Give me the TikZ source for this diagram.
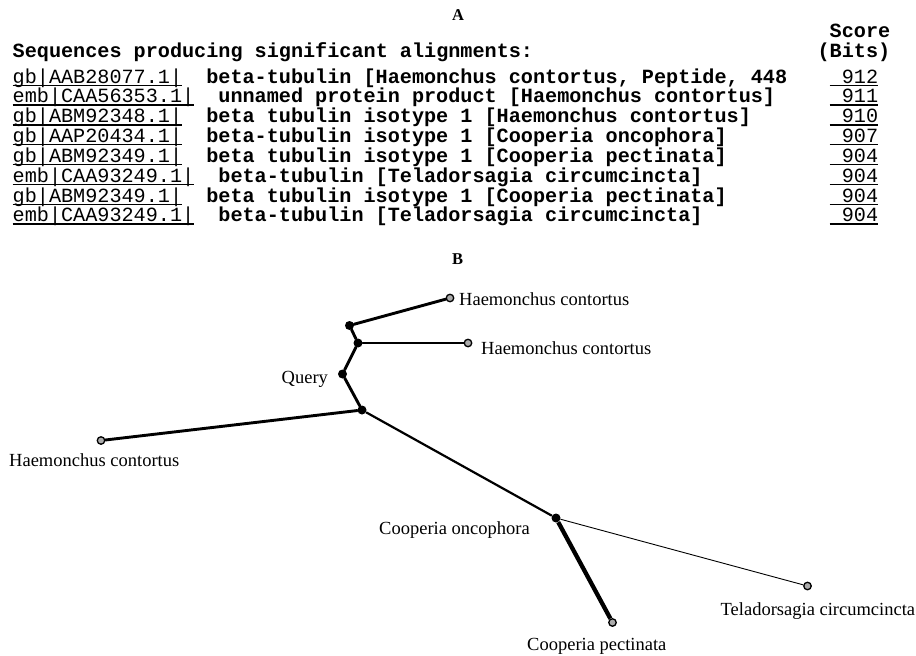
\documentclass[tikz,border=0pt]{standalone}
\usepackage{fontspec}
\setmainfont{Liberation Serif}
\setmonofont{Liberation Mono}
\begin{document}
\begin{tikzpicture}[x=1pt,y=-1pt,
  seqb/.style={font=\fontsize{20.17}{22}\selectfont\ttfamily\bfseries, anchor=base west, inner sep=0pt},
  seqr/.style={font=\fontsize{20.17}{22}\selectfont\ttfamily, anchor=base west, inner sep=0pt},
  uline/.style={line width=1.4pt},
  lbl/.style={font=\fontsize{18.5}{20}\selectfont, anchor=base west, inner sep=0pt},
  panel/.style={font=\fontsize{16.5}{18}\selectfont\bfseries, anchor=base, inner sep=0pt},
  innode/.style={circle, fill=black, minimum size=9pt, inner sep=0pt},
  leaf/.style={circle, fill=gray!65, draw=black, line width=1.3pt, minimum size=7.5pt, inner sep=0pt},
  br/.style={line width=2.9pt, line cap=round}]
\useasboundingbox (0,0) rectangle (916,656);

% ---------- Panel A ----------
\node[panel] (A) at (458,20) {A};
\node[seqb] (sc) at (829.5,37) {Score};
\node[seqb] (bt) at (817.4,57) {(Bits)};
\node[seqb] (hd) at (12.5,57) {Sequences producing significant alignments:};

\node[seqr] (a1) at (12.5,83)    {gb|AAB28077.1|};
\node[seqb] (d1) at (206.1,83)   {beta-tubulin [Haemonchus contortus, Peptide, 448};
\node[seqr] (s1) at (841.6,83)   {912};

\node[seqr] (a2) at (12.5,102.85)  {emb|CAA56353.1|};
\node[seqb] (d2) at (218.2,102.85) {unnamed protein product [Haemonchus contortus]};
\node[seqr] (s2) at (841.6,102.85) {911};

\node[seqr] (a3) at (12.5,122.7)  {gb|ABM92348.1|};
\node[seqb] (d3) at (206.1,122.7) {beta tubulin isotype 1 [Haemonchus contortus]};
\node[seqr] (s3) at (841.6,122.7) {910};

\node[seqr] (a4) at (12.5,142.55)  {gb|AAP20434.1|};
\node[seqb] (d4) at (206.1,142.55) {beta-tubulin isotype 1 [Cooperia oncophora]};
\node[seqr] (s4) at (841.6,142.55) {907};

\node[seqr] (a5) at (12.5,162.4)  {gb|ABM92349.1|};
\node[seqb] (d5) at (206.1,162.4) {beta tubulin isotype 1 [Cooperia pectinata]};
\node[seqr] (s5) at (841.6,162.4) {904};

\node[seqr] (a6) at (12.5,182.25)  {emb|CAA93249.1|};
\node[seqb] (d6) at (218.2,182.25) {beta-tubulin [Teladorsagia circumcincta]};
\node[seqr] (s6) at (841.6,182.25) {904};

\node[seqr] (a7) at (12.5,202.1)  {gb|ABM92349.1|};
\node[seqb] (d7) at (206.1,202.1) {beta tubulin isotype 1 [Cooperia pectinata]};
\node[seqr] (s7) at (841.6,202.1) {904};

\node[seqr] (a8) at (12.5,221.95)  {emb|CAA93249.1|};
\node[seqb] (d8) at (218.2,221.95) {beta-tubulin [Teladorsagia circumcincta]};
\node[seqr] (s8) at (841.6,221.95) {904};

\foreach \n in {1,...,8}{
  \draw[uline] ([yshift=-2.2pt]a\n.base west) -- ([yshift=-2.2pt]a\n.base east);
  \draw[uline] ([xshift=-12.1pt,yshift=-2.2pt]s\n.base west) -- ([yshift=-2.2pt]s\n.base east);
}

% ---------- Panel B ----------
\node[panel] (B) at (457.5,264) {B};

\node[innode] (na) at (349.5,325.5) {};
\node[innode] (nb) at (358,343) {};
\node[innode] (nq) at (342.5,374) {};
\node[innode] (nc) at (362,410) {};
\node[innode] (nd) at (556,518) {};

\node[leaf] (h1) at (450,298) {};
\node[leaf] (h2) at (468,343) {};
\node[leaf] (h3) at (101,440.5) {};
\node[leaf] (cp) at (612.5,622.5) {};
\node[leaf] (tc) at (807.5,586) {};

\draw[br] (na) -- (h1);
\draw[br] (na) -- (nb);
\draw[br] (nb) -- (h2);
\draw[br] (nb) -- (nq);
\draw[br] (nq) -- (nc);
\draw[br] (nc) -- (h3);
\draw[line width=2.2pt] (nc) -- (nd);
\draw[line width=4.3pt] (nd) -- (cp);
\draw[line width=0.9pt] (nd) -- (tc);

\node[lbl] (l1) at (459,305) {Haemonchus contortus};
\node[lbl] (l2) at (481,354) {Haemonchus contortus};
\node[lbl] (lq) at (281.5,383) {Query};
\node[lbl] (l3) at (9,466) {Haemonchus contortus};
\node[lbl] (lco) at (379,534) {Cooperia oncophora};
\node[lbl] (lcp) at (527,650) {Cooperia pectinata};
\node[lbl] (ltc) at (720.5,615) {Teladorsagia circumcincta};
\end{tikzpicture}
\end{document}
